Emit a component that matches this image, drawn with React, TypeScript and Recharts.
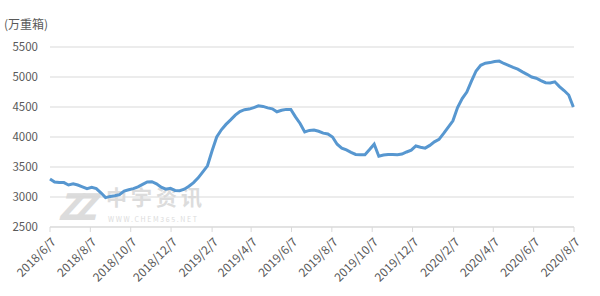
import React from 'react';
import { LineChart, Line, XAxis, YAxis, CartesianGrid } from 'recharts';

// Weekly price (万重箱 unit), starting 2018/6/7
const weeklyValues = [
  3300, 3250, 3240, 3240, 3200, 3220, 3200, 3170, 3140, 3160,
  3140, 3070, 2990, 3010, 3020, 3040, 3100, 3120, 3140, 3170,
  3210, 3250, 3255, 3220, 3165, 3130, 3145, 3110, 3105, 3130,
  3180, 3240, 3320, 3420, 3520, 3770, 4000, 4120, 4210, 4285,
  4365, 4425, 4455, 4465, 4490, 4520, 4510, 4485, 4470, 4420,
  4445, 4460, 4460, 4335, 4225, 4085, 4110, 4115, 4095, 4065,
  4050, 4000, 3880, 3815, 3785, 3745, 3710, 3705, 3705, 3790,
  3880, 3680, 3700, 3710, 3710, 3705, 3715, 3750, 3780, 3850,
  3830, 3815, 3860, 3920, 3960, 4060, 4165, 4270, 4490, 4640,
  4750, 4930, 5100, 5195, 5230, 5240, 5258, 5265, 5225, 5195,
  5160, 5130, 5085, 5045, 5000, 4980, 4940, 4905, 4900, 4920,
  4840, 4775, 4700, 4500,
];

const startDate = '2018/6/7';
const tickLabels = [
  '2018/6/7', '2018/8/7', '2018/10/7', '2018/12/7', '2019/2/7', '2019/4/7', '2019/6/7',
  '2019/8/7', '2019/10/7', '2019/12/7', '2020/2/7', '2020/4/7', '2020/6/7', '2020/8/7',
];
const yTicks = [2500, 3000, 3500, 4000, 4500, 5000, 5500];
const unitLabel = '(万重箱)';
const watermarkCn = '中宇资讯';
const watermarkUrl = 'WWW.CHEM365.NET';

const toUTC = (s: string) => {
  const [y, m, d] = s.split('/').map(Number);
  return Date.UTC(y, m - 1, d);
};
const dayOf = (s: string) => Math.round((toUTC(s) - toUTC(startDate)) / 86400000);

const data = weeklyValues.map((v, i) => ({ day: i * 7, value: v }));
const xTicks = tickLabels.map(dayOf);
const labelByDay: Record<number, string> = {};
tickLabels.forEach((l) => { labelByDay[dayOf(l)] = l; });

const FONT = "'Noto Sans CJK SC', 'Noto Sans', sans-serif";
const TEXT = '#595959';

const XTick = (props: any) => {
  const { x, y, payload } = props;
  return (
    <g transform={`translate(${x + 4},${y + 6}) rotate(-45)`}>
      <text x={0} y={0} dy={4} textAnchor="end" fill={TEXT} fontSize={12} fontFamily={FONT}>
        {labelByDay[payload.value]}
      </text>
    </g>
  );
};

export default function App() {
  return (
    <div style={{ position: 'absolute', left: 0, top: 0, width: 600, height: 296, background: '#fff', overflow: 'hidden' }}>
      <div style={{ position: 'absolute', left: 58, top: 188, width: 160, height: 40, color: '#dcdcdc', fontFamily: FONT, zIndex: 0 }}>
        <div style={{ position: 'absolute', left: 0, top: -4, fontSize: 36, fontWeight: 900, fontStyle: 'italic', letterSpacing: -6, lineHeight: '40px' }}>ZZ</div>
        <div style={{ position: 'absolute', left: 48, top: -3, fontSize: 21, fontWeight: 700, lineHeight: '22px', letterSpacing: 4 }}>{watermarkCn}</div>
        <div style={{ position: 'absolute', left: 50, top: 27, fontSize: 7, lineHeight: '8px', letterSpacing: 1.6 }}>{watermarkUrl}</div>
      </div>
      <div style={{ position: 'absolute', left: 4, top: 15, fontSize: 12, color: TEXT, fontFamily: FONT, zIndex: 2 }}>{unitLabel}</div>
      <div style={{ position: 'absolute', left: 0, top: 0, zIndex: 1 }}>
        <LineChart width={600} height={296} data={data} margin={{ top: 47, right: 26, bottom: 0, left: 0 }}>
          <CartesianGrid vertical={false} stroke="#d9d9d9" />
          <XAxis
            type="number"
            dataKey="day"
            domain={[0, xTicks[xTicks.length - 1]]}
            ticks={xTicks}
            interval={0}
            height={69}
            stroke="#d9d9d9"
            tickSize={5}
            tick={<XTick />}
          />
          <YAxis
            width={50}
            domain={[2500, 5500]}
            ticks={yTicks}
            axisLine={false}
            tickLine={false}
            tickMargin={6}
            tick={{ fill: TEXT, fontSize: 11.5, fontFamily: FONT }}
          />
          <Line
            type="linear"
            dataKey="value"
            stroke="#5797D0"
            strokeWidth={3}
            dot={false}
            isAnimationActive={false}
          />
        </LineChart>
      </div>
    </div>
  );
}
